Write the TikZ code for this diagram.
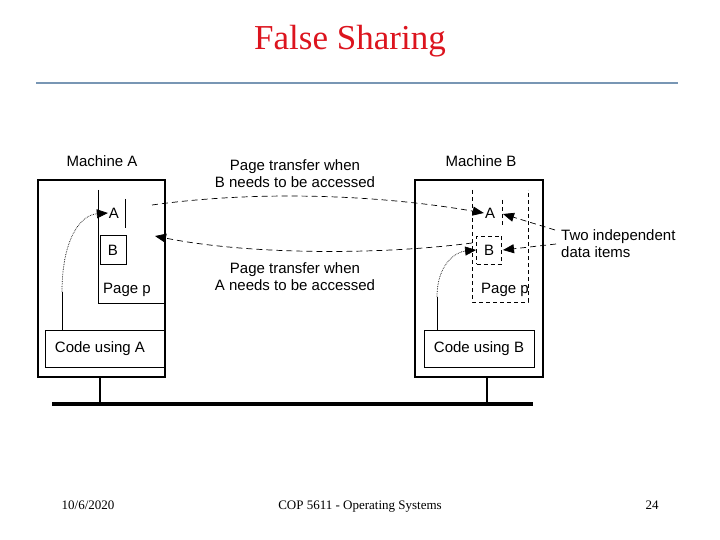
\documentclass[tikz,border=0pt]{standalone}
\usepackage{fontspec}
\setmainfont{Liberation Serif}
\newfontfamily\arialf{Liberation Sans}
\usetikzlibrary{arrows.meta}
\definecolor{titlered}{RGB}{220,20,30}
\definecolor{rulecol}{RGB}{120,150,180}
\tikzset{
  lbl/.style={font=\arialf\fontsize{15}{17}\selectfont, inner sep=0pt},
  foot/.style={font=\fontsize{13}{15}\selectfont, inner sep=0pt, anchor=base},
  machine/.style={draw, line width=2.2pt},
  dl/.style={dashed, dash pattern=on 6pt off 4pt, line width=0.7pt},
  dt/.style={densely dotted, line width=0.7pt},
  tip/.style={-{Triangle[length=11pt,width=9pt]}}
}
\begin{document}
\begin{tikzpicture}[x=1pt,y=-1pt]
\useasboundingbox (0,0) rectangle (720,540);
\node[font=\fontsize{35}{38}\selectfont, text=titlered, inner sep=0pt] (title) at (350,41) {False Sharing};
\draw[rulecol, line width=1.5pt] (36,83) coordinate (r1) -- (678,83) coordinate (r2);
% machines
\draw[machine] (38,180) rectangle (165,377);
\draw[machine] (415,180) rectangle (543,377);
\coordinate (busL) at (52,404); \coordinate (busR) at (533,404);
\draw[line width=3.5pt] (busL) -- (busR);
\draw[line width=2.5pt] (100,377) -- (100,404);
\draw[line width=2.5pt] (487,377) -- (487,404);
\node[lbl] (mA) at (102,161) {Machine A};
\node[lbl] (mB) at (481,161) {Machine B};
% page A
\draw[line width=0.7pt] (98,190) -- (98,303) -- (165,303);
\draw[line width=0.7pt] (125,199) -- (125,228);
\node[lbl] (aA) at (114,213) {A};
\node[lbl, draw, line width=0.7pt, minimum width=26pt, minimum height=29pt] (bA) at (113,250) {B};
\node[lbl] (pA) at (127,290) {Page p};
\draw[line width=0.7pt] (165,330) -- (45,330) -- (45,367) -- (165,367);
\node[lbl] (cA) at (100,349) {Code using A};
% page B
\draw[dl, dash pattern=on 4pt off 3pt] (472,190) -- (472,302) -- (528,302) -- (528,190);
\draw[dl, dash pattern=on 4pt off 3pt] (502,200) -- (502,226);
\node[lbl] (aB) at (490,213) {A};
\node[lbl, draw, dash pattern=on 4pt off 3pt, line width=0.7pt, minimum width=25pt, minimum height=28pt] (bB) at (489,250) {B};
\node[lbl] (pB) at (505,290) {Page p};
\node[lbl, draw, line width=0.7pt, minimum width=110pt, minimum height=37pt] (cB) at (479,349) {Code using B};
% local accesses
\coordinate (sA) at (62,330);
\draw[line width=0.7pt] (sA) -- (62,292);
\draw[dt, tip] (62,292) .. controls (62,240) and (80,215) .. ([xshift=-1pt]aA.west);
\coordinate (sB) at (437,330);
\draw[line width=0.7pt] (sB) -- (437,297);
\draw[dt, tip] (437,297) .. controls (437,265) and (455,252) .. (bB.west);
% transfers
\coordinate (tA) at (152,205);
\draw[dl, tip] (tA) .. controls (260,190) and (380,195) .. ([xshift=-1pt]aB.west);
\coordinate (tB) at (472,243);
\coordinate (tB2) at (155,236);
\draw[dl, tip] (tB) .. controls (380,255) and (250,255) .. (tB2);
\node[lbl, align=center] (l1) at (295,174) {Page transfer when\\B needs to be accessed};
\node[lbl, align=center] (l2) at (295,277) {Page transfer when\\A needs to be accessed};
\node[lbl, align=left, anchor=west] (two) at (561,244) {Two independent\\data items};
\draw[dl, tip] (555,230) -- (503,214);
\draw[dl, tip] (556,244) -- (503,250);
% footer
\node[foot] (f1) at (88,509) {10/6/2020};
\node[foot] (f2) at (360,509) {COP 5611 - Operating Systems};
\node[foot] (f3) at (652,509) {24};
\end{tikzpicture}
\end{document}
